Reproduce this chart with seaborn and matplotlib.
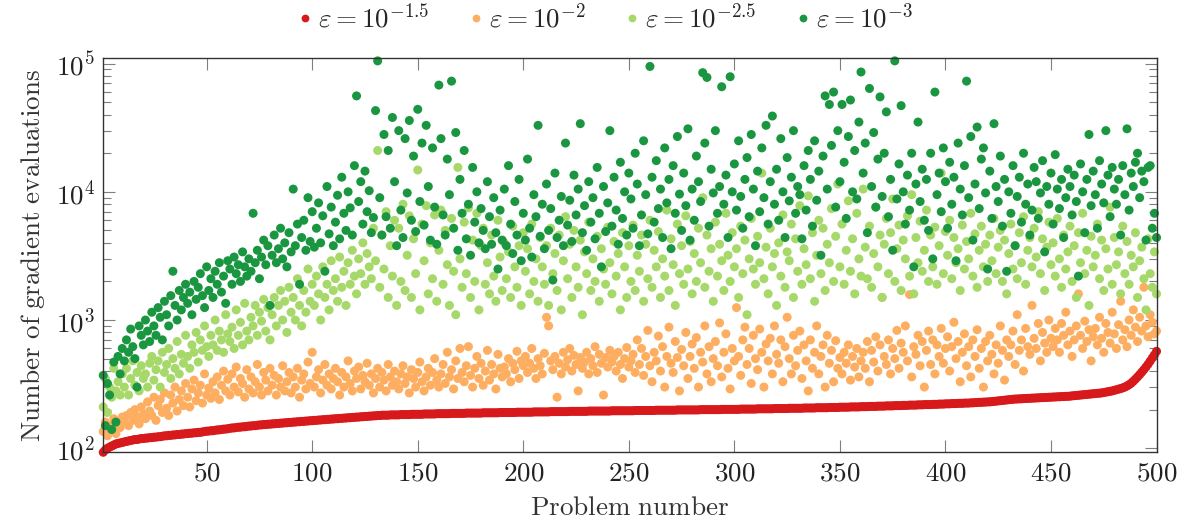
import numpy as np
import pandas as pd
import seaborn as sns
import matplotlib.pyplot as plt
from matplotlib.lines import Line2D
from matplotlib.ticker import FixedLocator, FixedFormatter, LogLocator, NullFormatter

# gradient evaluations per problem (problems sorted by the eps=1e-1.5 run)
red_vals = [
    93, 97, 100, 102, 104, 106, 108, 109, 110, 111,
    112, 113, 114, 115, 116, 117, 117, 118, 119, 119,
    120, 120, 121, 121, 122, 122, 123, 123, 124, 125,
    125, 126, 126, 127, 127, 128, 128, 129, 129, 130,
    130, 131, 131, 132, 132, 133, 133, 134, 135, 136,
    136, 137, 137, 138, 139, 139, 140, 141, 141, 142,
    143, 144, 144, 145, 146, 146, 147, 147, 148, 149,
    149, 150, 150, 151, 152, 152, 153, 153, 154, 154,
    155, 155, 156, 156, 157, 157, 158, 158, 159, 159,
    160, 160, 161, 161, 162, 162, 163, 163, 164, 164,
    165, 165, 166, 166, 167, 167, 168, 168, 169, 169,
    170, 170, 171, 171, 172, 172, 173, 173, 174, 174,
    175, 175, 176, 176, 177, 177, 178, 178, 179, 179,
    180, 180, 181, 181, 181, 181, 182, 182, 182, 182,
    182, 183, 183, 183, 183, 183, 184, 184, 184, 184,
    184, 184, 185, 185, 185, 185, 185, 185, 186, 186,
    186, 186, 186, 186, 186, 187, 187, 187, 187, 187,
    187, 187, 188, 188, 188, 188, 188, 188, 188, 188,
    189, 189, 189, 189, 189, 189, 189, 189, 190, 190,
    190, 190, 190, 190, 190, 190, 191, 191, 191, 191,
    191, 191, 191, 191, 192, 192, 192, 192, 192, 192,
    192, 192, 193, 193, 193, 193, 193, 193, 193, 193,
    193, 194, 194, 194, 194, 194, 194, 194, 194, 194,
    195, 195, 195, 195, 195, 195, 195, 195, 195, 195,
    195, 196, 196, 196, 196, 196, 196, 196, 196, 196,
    196, 196, 197, 197, 197, 197, 197, 197, 197, 197,
    197, 197, 198, 198, 198, 198, 198, 198, 198, 198,
    198, 198, 199, 199, 199, 199, 199, 199, 199, 199,
    199, 199, 199, 200, 200, 200, 200, 200, 200, 200,
    200, 200, 200, 201, 201, 201, 201, 201, 201, 201,
    201, 201, 202, 202, 202, 202, 202, 202, 202, 202,
    203, 203, 203, 203, 203, 203, 203, 203, 204, 204,
    204, 204, 204, 204, 204, 205, 205, 205, 205, 205,
    205, 205, 206, 206, 206, 206, 206, 206, 207, 207,
    207, 207, 207, 207, 208, 208, 208, 208, 208, 209,
    209, 209, 209, 209, 210, 210, 210, 210, 210, 211,
    211, 211, 211, 212, 212, 212, 212, 213, 213, 213,
    213, 214, 214, 214, 214, 215, 215, 215, 215, 216,
    216, 216, 217, 217, 217, 217, 218, 218, 218, 219,
    219, 219, 219, 220, 220, 220, 221, 221, 221, 222,
    222, 222, 223, 223, 223, 224, 224, 224, 225, 225,
    225, 226, 226, 227, 227, 228, 228, 229, 229, 230,
    230, 231, 232, 233, 234, 235, 236, 237, 238, 239,
    240, 241, 242, 242, 243, 243, 244, 244, 245, 245,
    246, 246, 247, 247, 248, 248, 249, 249, 250, 250,
    251, 251, 252, 252, 253, 253, 254, 254, 255, 256,
    257, 258, 259, 260, 261, 262, 263, 264, 265, 266,
    267, 268, 269, 270, 272, 274, 276, 278, 280, 283,
    286, 289, 292, 296, 300, 306, 313, 322, 333, 346,
    360, 375, 392, 410, 430, 452, 478, 506, 535, 570,
]

orange_vals = [
    135, 160, 125, 150, 140, 170, 130, 155, 145, 175,
    160, 180, 150, 190, 165, 200, 175, 155, 210, 185,
    170, 230, 195, 180, 250, 165, 215, 240, 190, 270,
    205, 180, 260, 225, 300, 195, 240, 280, 215, 320,
    250, 210, 290, 340, 235, 270, 310, 225, 380, 260,
    295, 245, 330, 270, 360, 240, 310, 400, 280, 345,
    260, 380, 300, 430, 275, 350, 320, 250, 410, 290,
    360, 270, 330, 450, 300, 260, 390, 340, 280, 420,
    310, 370, 260, 350, 300, 440, 280, 330, 390, 270,
    360, 300, 420, 250, 340, 380, 290, 470, 320, 560,
    300, 360, 410, 270, 340, 450, 310, 380, 290, 350,
    420, 330, 260, 390, 300, 360, 480, 320, 280, 400,
    350, 430, 290, 370, 330, 460, 310, 380, 270, 350,
    420, 300, 390, 340, 280, 450, 360, 310, 400, 330,
    290, 380, 440, 320, 360, 270, 410, 350, 300, 390,
    470, 330, 280, 360, 420, 310, 390, 500, 340, 300,
    380, 450, 320, 560, 360, 410, 290, 480, 350, 600,
    390, 330, 440, 620, 370, 300, 420, 520, 350, 460,
    310, 400, 580, 340, 450, 380, 290, 540, 420, 360,
    430, 380, 500, 330, 460, 410, 570, 350, 480, 440,
    520, 390, 460, 600, 420, 350, 500, 440, 380, 550,
    1050, 900, 480, 410, 520, 250, 460, 380, 560, 430,
    490, 600, 400, 530, 450, 280, 510, 420, 470, 560,
    380, 500, 440, 620, 390, 540, 460, 260, 510, 430,
    580, 470, 520, 400, 560, 450, 350, 500, 610, 430,
    480, 540, 390, 700, 450, 600, 370, 520, 830, 440,
    330, 560, 480, 750, 400, 620, 300, 520, 880, 460,
    390, 680, 510, 280, 590, 440, 800, 350, 520, 650,
    420, 730, 300, 560, 470, 900, 380, 620, 330, 500,
    680, 440, 950, 360, 560, 780, 420, 290, 600, 480,
    1250, 520, 370, 700, 880, 450, 600, 320, 760, 500,
    410, 850, 560, 300, 650, 480, 720, 380, 900, 540,
    460, 700, 330, 620, 1050, 500, 380, 760, 440, 580,
    820, 350, 640, 480, 280, 700, 420, 560, 900, 380,
    520, 640, 300, 760, 460, 580, 330, 690, 420, 510,
    380, 560, 460, 640, 340, 520, 430, 600, 360, 480,
    560, 420, 680, 330, 580, 470, 740, 400, 640, 1500,
    520, 450, 700, 380, 600, 500, 830, 420, 660, 560,
    900, 480, 1580, 360, 620, 540, 760, 440, 680, 300,
    580, 820, 450, 700, 380, 640, 520, 860, 460, 600,
    740, 400, 620, 960, 500, 680, 330, 560, 780, 440,
    620, 360, 700, 520, 840, 420, 600, 300, 680, 480,
    760, 540, 380, 640, 460, 900, 580, 340, 700, 520,
    640, 820, 450, 1100, 580, 700, 400, 860, 620, 540,
    1300, 720, 600, 940, 480, 800, 660, 560, 1000, 720,
    620, 860, 700, 560, 940, 760, 1150, 640, 820, 520,
    700, 900, 1600, 760, 600, 980, 680, 840, 480, 740,
    860, 640, 1050, 720, 560, 940, 800, 660, 1150, 780,
    600, 920, 1400, 700, 840, 620, 1000, 760, 1200, 880,
    680, 1050, 820, 1800, 900, 740, 1100, 960, 780, 820,
]

lgreen_vals = [
    210, 350, 190, 300, 250, 420, 280, 330, 260, 380,
    300, 420, 260, 350, 480, 310, 390, 280, 440, 350,
    380, 300, 460, 520, 340, 410, 480, 300, 560, 390,
    450, 600, 350, 500, 420, 680, 380, 540, 460, 760,
    520, 420, 640, 560, 800, 470, 700, 580, 900, 620,
    520, 760, 640, 1000, 580, 820, 700, 560, 1100, 780,
    680, 880, 600, 1200, 760, 960, 640, 1350, 820, 700,
    1050, 900, 1300, 760, 1150, 980, 1450, 820, 1250, 700,
    1100, 1500, 900, 1300, 1700, 1000, 1400, 800, 1800, 1150,
    1500, 1000, 2100, 1300, 900, 1700, 1150, 2500, 1400, 1900,
    1300, 2200, 1600, 1000, 2600, 1500, 1900, 1200, 2900, 1700,
    2100, 1400, 3100, 1800, 2400, 1300, 2800, 1900, 3500, 2200,
    1600, 3000, 2300, 4000, 1900, 3300, 2600, 2100, 5200, 2900,
    21000, 1800, 4600, 2500, 7000, 1500, 3800, 2200, 6000, 1300,
    5200, 2000, 8000, 1700, 3200, 6500, 1500, 4300, 2300, 14800,
    1200, 5600, 2900, 7800, 1600, 4000, 2100, 6600, 1400, 3500,
    7200, 1900, 5000, 2700, 1300, 6200, 2400, 1100, 15500, 3000,
    1800, 5800, 2300, 7500, 1500, 4200, 2000, 6800, 1200, 3800,
    5200, 1900, 2800, 1600, 4600, 2200, 1400, 6000, 3100, 1700,
    4000, 2100, 3400, 1500, 5400, 2600, 1800, 3800, 1300, 4800,
    2400, 3600, 1600, 5600, 2000, 3000, 1400, 4400, 2600, 1900,
    3800, 1300, 5200, 2300, 3300, 1700, 4600, 1200, 2900, 6400,
    2100, 3900, 1500, 5000, 2600, 1800, 4200, 1100, 3400, 2300,
    5800, 1700, 3000, 2000, 4500, 1400, 3600, 2500, 1900, 5300,
    2800, 1600, 4100, 2200, 3300, 1200, 4800, 2600, 1500, 3800,
    2000, 5500, 1700, 3200, 2400, 4600, 1400, 3900, 2100, 6000,
    1800, 3500, 2600, 4900, 1500, 3000, 2200, 7200, 1700, 4300,
    2700, 1300, 5600, 2300, 3800, 1900, 6500, 2500, 4100, 1600,
    3300, 2000, 5200, 2800, 9000, 1800, 4600, 2400, 3600, 1400,
    5800, 2200, 3900, 2900, 1700, 6800, 3200, 2000, 4800, 2600,
    3600, 1500, 5400, 2300, 4200, 1100, 3000, 6200, 2500, 1900,
    4500, 2800, 14000, 2100, 3700, 1600, 5200, 2600, 3300, 1300,
    4000, 2200, 6600, 1800, 3400, 2900, 5600, 1500, 4300, 2400,
    7800, 1900, 3600, 2700, 9300, 2100, 4800, 1400, 3200, 6000,
    2300, 5200, 1700, 3900, 2800, 7400, 2000, 4500, 11500, 2600,
    5600, 1900, 3500, 8500, 2400, 4300, 1600, 6800, 3000, 2200,
    10500, 3700, 2100, 5400, 1800, 3300, 7600, 2600, 4600, 1500,
    3900, 6200, 2300, 4800, 8800, 2000, 3600, 5500, 1700, 4200,
    3000, 6500, 2200, 9500, 1600, 4400, 2800, 5900, 2400, 3500,
    7200, 2000, 4600, 2600, 5300, 1900, 3800, 14000, 2300, 4900,
    3200, 6000, 2100, 4400, 2800, 3600, 1700, 5500, 2500, 4100,
    3000, 6800, 2200, 4700, 1800, 3500, 5400, 2600, 3900, 2000,
    4600, 2900, 6200, 2300, 3700, 5000, 2000, 4200, 1600, 3300,
    5600, 2500, 3800, 2100, 4800, 2800, 6400, 1900, 3500, 4400,
    2600, 5200, 3100, 7000, 2300, 4300, 1700, 3700, 5800, 2700,
    4000, 2200, 6200, 3000, 1800, 4600, 2500, 3400, 5400, 2000,
    3800, 1500, 4800, 2800, 6800, 2300, 3500, 1300, 4500, 2600,
    3200, 5600, 2100, 4200, 1700, 3600, 2500, 7600, 1900, 4400,
    2700, 3400, 1600, 5400, 2300, 4100, 1900, 3200, 2600, 4800,
    1500, 2900, 3700, 2100, 1200, 4300, 2300, 1800, 3400, 1600,
]

dgreen_vals = [
    370, 150, 320, 260, 140, 470, 160, 520, 380, 600,
    480, 700, 560, 850, 620, 500, 300, 900, 760, 640,
    1000, 820, 680, 1150, 900, 760, 1250, 1050, 700, 1400,
    1100, 900, 1550, 2400, 1300, 1000, 1700, 1200, 1500, 1900,
    1350, 1650, 1100, 2000, 1450, 1800, 2300, 1550, 1250, 2600,
    1700, 2100, 1500, 2400, 1900, 2800, 1650, 2200, 1350, 2900,
    2500, 1900, 3100, 2300, 2700, 2000, 3400, 2600, 2200, 3000,
    2400, 6800, 2800, 3500, 2100, 3100, 4200, 2700, 3800, 1300,
    3200, 4600, 2800, 3600, 5200, 3000, 4000, 2600, 4800, 3400,
    10500, 3800, 5600, 1900, 4400, 6000, 3500, 9000, 4100, 7000,
    3700, 5200, 8200, 4000, 6500, 2400, 11000, 4700, 7600, 3800,
    5800, 9400, 4300, 13000, 6800, 5000, 10000, 7500, 4600, 16000,
    56000, 8400, 12000, 5600, 14500, 7000, 10200, 4800, 6300, 43000,
    105000, 9000, 4600, 28000, 6400, 21000, 5200, 38000, 12000, 3800,
    30000, 7200, 4400, 26000, 9800, 36000, 6000, 19000, 4900, 44000,
    8400, 24000, 5500, 33000, 11000, 4200, 22000, 7600, 3900, 68000,
    26000, 6600, 4600, 18000, 9500, 73000, 5200, 29000, 3500, 12500,
    6800, 21000, 4300, 8000, 3200, 15500, 5800, 10000, 4000, 7400,
    5000, 3600, 12000, 6400, 3900, 9000, 4800, 2500, 7200, 4200,
    10500, 3800, 16000, 5600, 3300, 8400, 4600, 12500, 2900, 6800,
    4200, 18000, 5200, 3100, 9500, 6400, 33000, 4500, 8000, 3600,
    11500, 5000, 7400, 2050, 14000, 4400, 6000, 9200, 3800, 24000,
    5500, 8600, 4100, 13500, 6600, 10500, 34000, 4800, 7800, 3500,
    12000, 5800, 9000, 4300, 15500, 6800, 2600, 11000, 4900, 8200,
    30000, 5400, 13000, 7200, 3900, 17000, 6200, 10000, 4600, 14000,
    8800, 5200, 20000, 11500, 3800, 6600, 25000, 9500, 4700, 95000,
    13000, 5800, 17500, 7400, 10500, 4400, 22000, 8200, 12500, 3600,
    16000, 6800, 27000, 9600, 5000, 14000, 7800, 31000, 4200, 10500,
    6000, 19000, 12000, 8400, 85000, 24000, 78000, 5400, 15000, 9800,
    30000, 6800, 11000, 66000, 8000, 13500, 4400, 79000, 10000, 16500,
    7200, 25000, 9200, 5200, 12500, 18500, 6400, 28000, 10500, 3800,
    14500, 7000, 22000, 9000, 33000, 5600, 12000, 39000, 8000, 15000,
    6000, 26000, 10000, 4400, 18500, 8500, 13000, 30000, 6800, 11000,
    9500, 4300, 16000, 7200, 21000, 12500, 5400, 25000, 8600, 14500,
    3200, 19000, 56000, 10500, 48000, 23000, 60000, 7600, 30000, 12000,
    48000, 17000, 6200, 27000, 52000, 10000, 21000, 8800, 35000, 86000,
    14000, 24000, 4800, 64000, 11000, 29000, 7600, 18000, 55000, 9200,
    20000, 42000, 6400, 12500, 3500, 105000, 8800, 16500, 47000, 10000,
    5600, 13500, 7200, 20000, 2600, 11500, 35000, 8400, 15000, 6000,
    12500, 5000, 20000, 3000, 60000, 9500, 14000, 7000, 22000, 12000,
    5200, 17000, 8000, 13000, 2900, 24000, 10500, 6600, 16000, 73000,
    9000, 27000, 4200, 11500, 32000, 7400, 18000, 22000, 9800, 2500,
    14500, 6200, 34000, 11000, 8400, 19000, 5400, 12500, 2400, 10000,
    6800, 16000, 3800, 9200, 13000, 5800, 20000, 8000, 11500, 4600,
    7200, 15500, 12000, 6200, 9800, 17500, 3400, 11000, 8000, 14000,
    5600, 19500, 10500, 7400, 12500, 4400, 9000, 15000, 11000, 6600,
    13500, 8400, 2200, 16500, 10000, 4800, 12500, 28000, 7800, 14500,
    9500, 5200, 17500, 11500, 8200, 30000, 13500, 6400, 15500, 10500,
    8000, 12500, 4600, 16000, 9500, 31000, 7200, 14000, 11000, 17000,
    20000, 9000, 14500, 12000, 4200, 15500, 16000, 5200, 6800, 4400,
]

tol_labels = [r'$\varepsilon = 10^{-1.5}$', r'$\varepsilon = 10^{-2}$',
              r'$\varepsilon = 10^{-2.5}$', r'$\varepsilon = 10^{-3}$']
colors = ['#d7191c', '#fdae61', '#a6d96a', '#1a9641']
xticks = [50, 100, 150, 200, 250, 300, 350, 400, 450, 500]
yticks = [1e2, 1e3, 1e4, 1e5]

problems = np.arange(1, len(red_vals) + 1)
frames = []
for vals, lab in zip([red_vals, orange_vals, lgreen_vals, dgreen_vals], tol_labels):
    frames.append(pd.DataFrame({'problem': problems, 'evals': vals, 'tol': lab}))
df = pd.concat(frames, ignore_index=True)

sns.set_theme(style='ticks')
plt.rcParams['mathtext.fontset'] = 'cm'
fs = 19.5

fig = plt.figure(figsize=(11.84, 5.21), dpi=100)
ax = fig.add_axes([0.0872, 0.1319, 0.8896, 0.7562])

sns.scatterplot(data=df, x='problem', y='evals', hue='tol', palette=colors,
                s=42, linewidth=0, alpha=1, ax=ax, clip_on=False, legend=False)

ax.set_yscale('log')
ax.set_xlim(1, 500)
ax.set_ylim(93, 1.1e5)

ax.xaxis.set_major_locator(FixedLocator(xticks))
ax.xaxis.set_major_formatter(FixedFormatter([f'${t}$' for t in xticks]))
ax.yaxis.set_major_locator(FixedLocator(yticks))
ax.yaxis.set_major_formatter(FixedFormatter([r'$10^{2}$', r'$10^{3}$', r'$10^{4}$', r'$10^{5}$']))
ax.yaxis.set_minor_locator(LogLocator(base=10, subs=np.arange(2, 10)))
ax.yaxis.set_minor_formatter(NullFormatter())

ax.tick_params(which='both', direction='in', top=True, right=True,
               color='#7f7f7f', width=0.8, labelsize=fs, labelcolor='#222222')
ax.tick_params(which='major', length=8.4, pad=6)
ax.tick_params(which='minor', length=5.5)
for sp in ax.spines.values():
    sp.set_color('#333333')
    sp.set_linewidth(1.0)

ax.set_xlabel(r'$\mathrm{Problem\ number}$', fontsize=fs, color='#333333', labelpad=6)
ax.set_ylabel(r'$\mathrm{Number\ of\ gradient\ evaluations}$', fontsize=fs, color='#333333', labelpad=6)

handles = [Line2D([], [], linestyle='none', marker='o', markersize=5.6,
                  markerfacecolor=c, markeredgewidth=0) for c in colors]
ax.legend(handles, tol_labels, loc='center', bbox_to_anchor=(0.512, 0.965),
          bbox_transform=fig.transFigure, ncol=4, frameon=False, fontsize=fs,
          handlelength=0.4, handletextpad=0.3, columnspacing=1.5)

fig.savefig('out.png', dpi=100)
